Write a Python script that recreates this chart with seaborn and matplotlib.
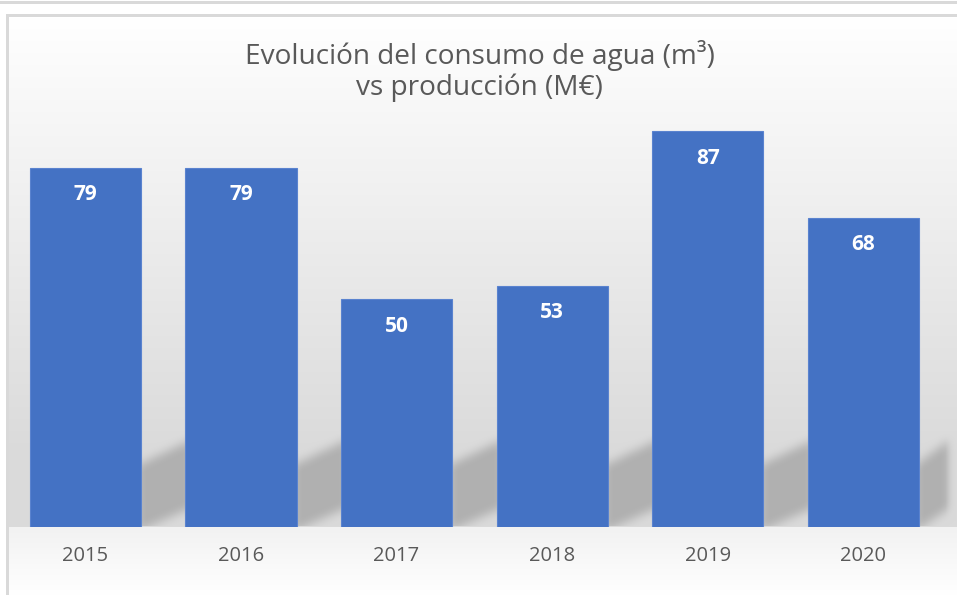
import numpy as np
import pandas as pd
import seaborn as sns
import matplotlib.pyplot as plt
from matplotlib.path import Path

# datos del gráfico
anios = ['2015', '2016', '2017', '2018', '2019', '2020']
consumo = [79, 79, 50, 53, 87, 68]
titulo = 'Evolución del consumo de agua (m³)\nvs producción (M€)'

df = pd.DataFrame({'Año': anios, 'Consumo': consumo})

sns.set_style('white')
plt.rcParams['font.family'] = ['Open Sans', 'DejaVu Sans']

W, H = 957, 595
fig = plt.figure(figsize=(W / 100, H / 100), dpi=100)
fig.patch.set_facecolor('white')
ax = fig.add_axes([0.008, 0.1143, 0.9753, 0.7647])
ax.set_zorder(1)
ax.set_facecolor('none')

sns.barplot(data=df, x='Año', y='Consumo', color='#4472C4', saturation=1,
            width=0.714, edgecolor='#5a83cf', linewidth=0.8, ax=ax)
ax.set_ylim(0, 100)
ax.set_xlim(-0.5, len(anios) - 0.5)
ax.set_xlabel('')
ax.set_ylabel('')
ax.set_yticks([])
sns.despine(ax=ax, left=True, bottom=True)
ax.tick_params(axis='x', length=0, pad=13.5, labelsize=14.5, labelcolor='#595959')

# etiquetas de valor dentro de cada barra
for i, v in enumerate(consumo):
    ax.annotate(str(v), (i, v), xytext=(0, -19.5), textcoords='offset points',
                ha='center', va='center', color='white', fontsize=15,
                fontweight='bold')

fig.text(0.501, 0.8807, titulo, ha='center', va='center', fontsize=20.2,
         color='#595959', linespacing=1.12)

# fondo: degradado del área del gráfico y sombras diagonales de las barras
fig.canvas.draw()
yy, xx = np.mgrid[0:H, 0:W]
img = np.full((H, W), 255.0)
base = H - ax.get_window_extent().y0          # borde inferior de las barras (px)
dentro = (xx >= 9) & (yy >= 17)
grad = 255 - 37 * np.clip((yy - 17) / (base - 90), 0, 1)
img[dentro] = grad[dentro]
abajo = dentro & (yy > base)
img[abajo] = (242 + 13 * np.clip((yy - base) / (H - base), 0, 1))[abajo]

mask = np.zeros((H, W))
pts = np.column_stack([xx.ravel(), yy.ravel()])
barras = [p.get_window_extent() for p in ax.patches]
for k, bb in enumerate(barras):
    r = bb.x1
    g = (barras[k + 1].x0 - r) if k + 1 < len(barras) else 25
    quad = Path([(r - 4, base + 4), (r - 4, base - 62), (r + g + 6, base - 88),
                 (r + g + 6, base - 20), (r - 4, base + 4)])
    mask += quad.contains_points(pts).reshape(H, W)
mask = np.clip(mask, 0, 1)
kern = np.ones(11) / 11
for _ in range(2):
    mask = np.apply_along_axis(lambda f: np.convolve(f, kern, mode='same'), 1, mask)
    mask = np.apply_along_axis(lambda c: np.convolve(c, kern, mode='same'), 0, mask)
mask[int(base):] = 0
mask[:, 945:] *= np.linspace(1, 0, W - 945)[None, :]
img = img - 42 * mask

# bordes del marco
img[1:4, :] = 217
img[14:17, 6:] = 217
img[14:, 6:9] = 217

bg = fig.add_axes([0, 0, 1, 1], zorder=-1)
bg.imshow(np.dstack([img, img, img]) / 255, extent=(0, W, H, 0), aspect='auto',
          interpolation='nearest')
bg.set_xlim(0, W)
bg.set_ylim(H, 0)
bg.axis('off')

fig.savefig('out.png', dpi=100)
